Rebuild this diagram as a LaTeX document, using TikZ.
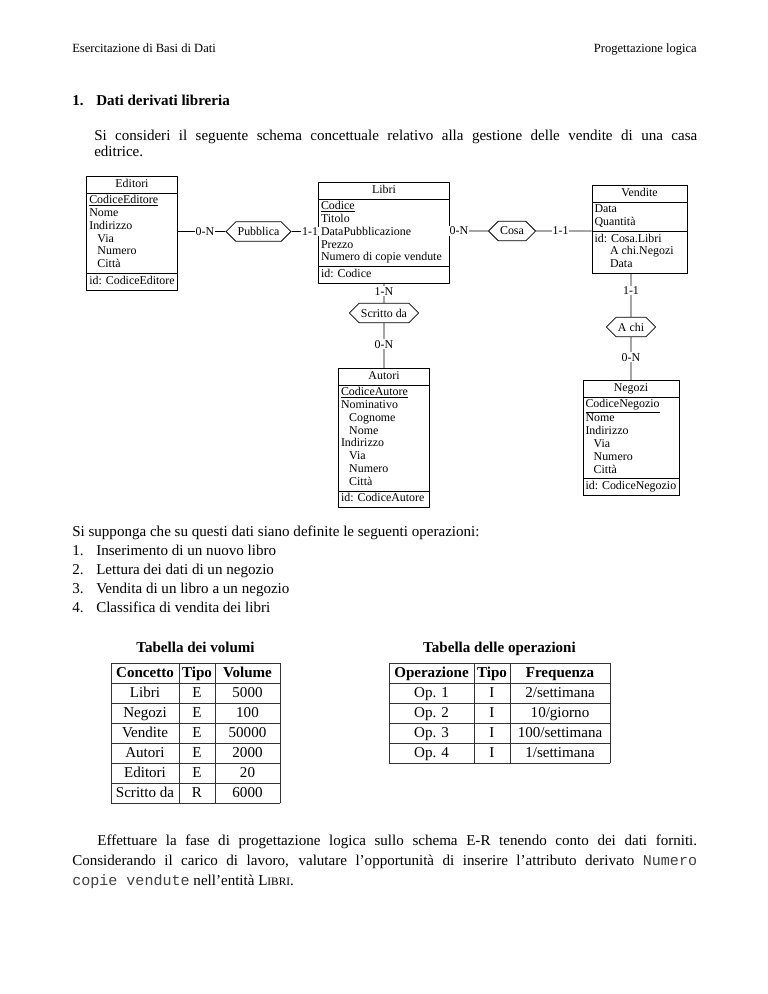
\documentclass[tikz,border=0pt]{standalone}
\usepackage{fontspec}
\setmainfont{Liberation Serif}
\setmonofont{Liberation Mono}
\usetikzlibrary{shapes.multipart,shapes.symbols}

\newcommand{\attind}{\hspace*{6.5pt}}
\newcommand{\erfont}{\fontsize{9.5}{10.2}\selectfont}
\newcommand{\bodyfont}{\fontsize{12}{14}\selectfont}

\tikzset{
	entity/.style={draw, line width=0.6pt, rectangle split, rectangle split parts=3,
		rectangle split part align={center,left,left}, align=left,
		inner xsep=2pt, inner ysep=1.2pt, font=\erfont, anchor=north},
	rel/.style={draw, line width=0.6pt, signal, signal to=east and west,
		minimum height=15.5pt, inner xsep=1.5pt, inner ysep=1pt, font=\erfont},
	card/.style={fill=white, inner sep=0.6pt, font=\erfont},
	link/.style={line width=0.5pt},
	body/.style={font=\bodyfont, inner sep=0pt, anchor=base west},
	cell/.style={font=\bodyfont, inner sep=0pt, anchor=base},
	grid/.style={line width=0.5pt, black!80, line cap=rect},
}

\begin{document}
\begin{tikzpicture}[x=0.797pt, y=-0.797pt]
	\useasboundingbox (0,0) rectangle (768,994);
	% page header
	\node[body, font=\fontsize{10}{12}\selectfont] (hleft) at (72,52) {Esercitazione di Basi di Dati};
	\node[body, font=\fontsize{10}{12}\selectfont, anchor=base east] (hright) at (697,52) {Progettazione logica};
	\node[body, font=\bodyfont\bfseries] (secnum) at (72,105) {1.};
	\node[body, font=\bodyfont\bfseries] (sectitle) at (96,105) {Dati derivati libreria};
	\node[body, text width=480.6pt, align=justify, font=\fontsize{12}{13.5}\selectfont] (intro) at (94,140)
		{Si consideri il seguente schema concettuale relativo alla gestione delle vendite di una casa\linebreak editrice.};

	% E-R schema
	\node[entity, minimum width=71.7pt] (editori) at (132,176)
		{\strut Editori
		\nodepart{two}\strut\underline{CodiceEditore}\\Nome\\Indirizzo\\\attind Via\\\attind Numero\\\attind Città\strut
		\nodepart{three}\strut id: CodiceEditore};
	\node[entity, minimum width=104.4pt] (libri) at (384,182)
		{\strut Libri
		\nodepart{two}\strut\underline{Codice}\\Titolo\\DataPubblicazione\\Prezzo\\Numero di copie vendute\strut
		\nodepart{three}\strut id: Codice};
	\node[entity, minimum width=75.7pt] (vendite) at (639.5,185)
		{\strut Vendite
		\nodepart{two}\strut Data\\Quantità\strut
		\nodepart{three}\strut id: Cosa.Libri\\\hphantom{id:\ }A chi.Negozi\\\hphantom{id:\ }Data\strut};
	\node[entity, minimum width=72.5pt] (autori) at (384,368)
		{\strut Autori
		\nodepart{two}\strut\underline{CodiceAutore}\\Nominativo\\\attind Cognome\\\attind Nome\\Indirizzo\\\attind Via\\\attind Numero\\\attind Città\strut
		\nodepart{three}\strut id: CodiceAutore};
	\node[entity, minimum width=76.5pt] (negozi) at (631,380)
		{\strut Negozi
		\nodepart{two}\strut\underline{CodiceNegozio}\\Nome\\Indirizzo\\\attind Via\\\attind Numero\\\attind Città\strut
		\nodepart{three}\strut id: CodiceNegozio};

	\node[rel] (pubblica) at (258.5,231.5) {Pubblica};
	\node[rel] (cosa) at (512,231) {Cosa};
	\node[rel] (scritto) at (384,313) {Scritto da};
	\node[rel] (achi) at (631,327) {A chi};

	\draw[link] (editori.east |- pubblica) -- node[card, pos=.57] (c1) {0-N} (pubblica);
	\draw[link] (pubblica) -- node[card, pos=.7] (c2) {1-1} (pubblica -| libri.west);
	\draw[link] (libri.east |- cosa) -- node[card, pos=.24] (c3) {0-N} (cosa);
	\draw[link] (cosa) -- node[card, pos=.44] (c4) {1-1} (cosa -| vendite.west);
	\draw[link] (libri) -- node[card, pos=.39] (c5) {1-N} (scritto);
	\draw[link] (scritto) -- node[card, pos=.47] (c6) {0-N} (autori);
	\draw[link] (vendite.south -| achi) -- node[card, pos=.39] (c7) {1-1} (achi);
	\draw[link] (achi) -- node[card, pos=.47] (c8) {0-N} (negozi);

	% operations
	\node[body] (ops) at (72,536) {Si supponga che su questi dati siano definite le seguenti operazioni:};
	\foreach \t [count=\i] in {Inserimento di un nuovo libro, Lettura dei dati di un negozio,
		Vendita di un libro a un negozio, Classifica di vendita dei libri} {
		\node[body] (opn\i) at (72,536+19*\i) {\i.};
		\node[body] (opt\i) at (96,536+19*\i) {\t};
	}

	% table of volumes
	\node[cell, font=\bodyfont\bfseries] (tvol) at (195.5,652) {Tabella dei volumi};
	\foreach \y in {663,683,...,803} \draw[grid] (111,\y) -- (280,\y);
	\foreach \x in {111,179,215,280} \draw[grid] (\x,663) -- (\x,803);
	\node[cell, font=\bodyfont\bfseries] (vh1) at (145,677) {Concetto};
	\node[cell, font=\bodyfont\bfseries] (vh2) at (197,677) {Tipo};
	\node[cell, font=\bodyfont\bfseries] (vh3) at (247.5,677) {Volume};
	\foreach \c/\t/\v [count=\i] in {Libri/E/5000, Negozi/E/100, Vendite/E/50000,
		Autori/E/2000, Editori/E/20, Scritto da/R/6000} {
		\node[cell] (vc\i) at (145,677+20*\i) {\c};
		\node[cell] (vt\i) at (197,677+20*\i) {\t};
		\node[cell] (vv\i) at (247.5,677+20*\i) {\v};
	}

	% table of operations
	\node[cell, font=\bodyfont\bfseries] (tops) at (499.5,652) {Tabella delle operazioni};
	\foreach \y in {663,683,...,763} \draw[grid] (389,\y) -- (610,\y);
	\foreach \x in {389,474,510,610} \draw[grid] (\x,663) -- (\x,763);
	\node[cell, font=\bodyfont\bfseries] (oh1) at (431.5,677) {Operazione};
	\node[cell, font=\bodyfont\bfseries] (oh2) at (492,677) {Tipo};
	\node[cell, font=\bodyfont\bfseries] (oh3) at (560,677) {Frequenza};
	\foreach \o/\t/\f [count=\i] in {{Op. 1}/I/{2/settimana}, {Op. 2}/I/{10/giorno},
		{Op. 3}/I/{100/settimana}, {Op. 4}/I/{1/settimana}} {
		\node[cell] (oo\i) at (431.5,677+20*\i) {\o};
		\node[cell] (ot\i) at (492,677+20*\i) {\t};
		\node[cell] (of\i) at (560,677+20*\i) {\f};
	}

	% task
	\node[body, text width=498pt, align=justify, font=\fontsize{12}{16.3}\selectfont] (task) at (72,845)
		{\hspace*{20pt}Effettuare la fase di progettazione logica sullo schema E-R tenendo conto dei dati forniti.\linebreak
		Considerando il carico di lavoro, valutare l’opportunità di inserire l’attributo derivato {\color{black!75}\texttt{Numero\linebreak
		copie vendute}} nell’entità L{\fontsize{9}{9}\selectfont IBRI}.};
\end{tikzpicture}
\end{document}
